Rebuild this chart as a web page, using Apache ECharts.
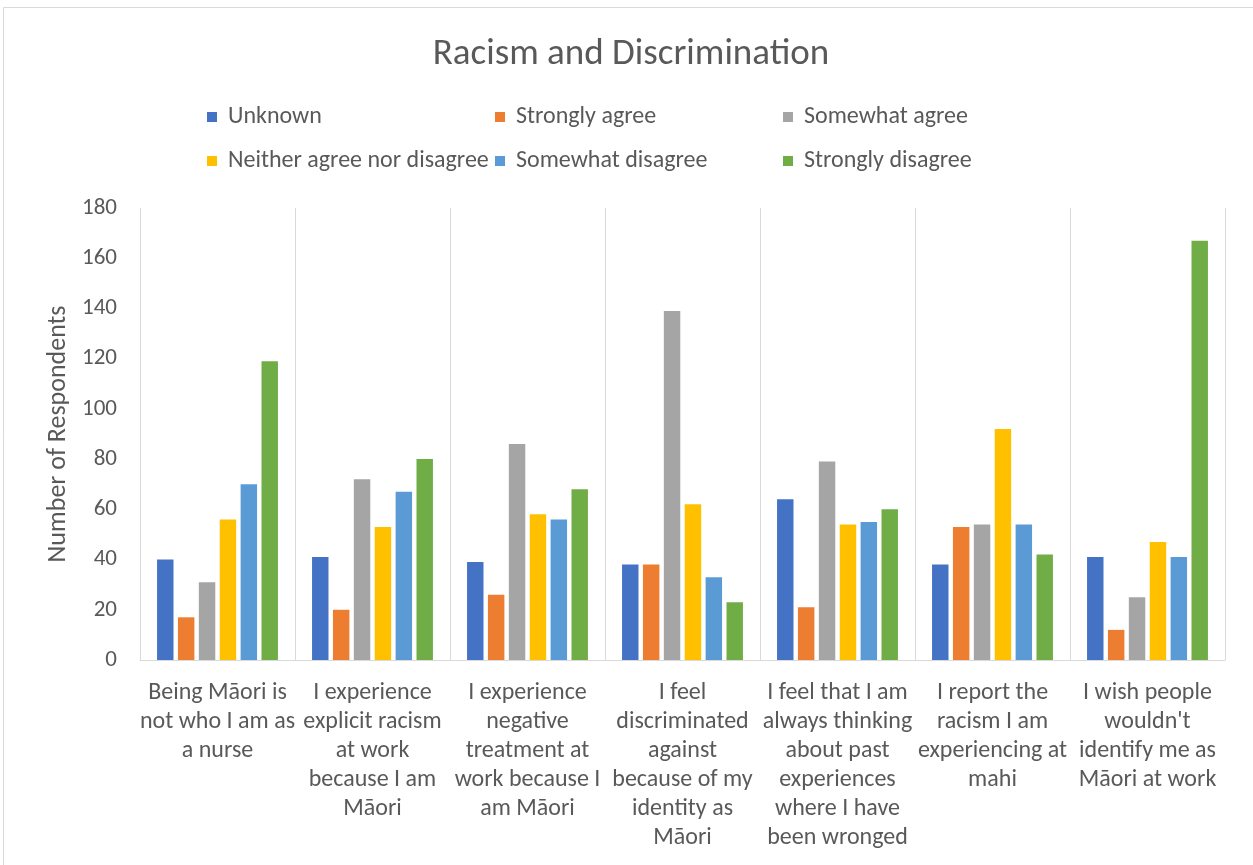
<!DOCTYPE html>
<html>
<head>
<meta charset="utf-8">
<title>Racism and Discrimination</title>
<script src="https://cdn.jsdelivr.net/npm/echarts@6/dist/echarts.min.js"></script>
<style>
  html, body { margin: 0; padding: 0; background: #ffffff; }
  #chart { width: 1253px; height: 865px; }
</style>
</head>
<body>
<div id="chart"></div>
<script>
// Survey statements (tick labels, wrapped as they appear under each group)
const categories = [
  "Being Māori is\nnot who I am as\na nurse",
  "I experience\nexplicit racism\nat work\nbecause I am\nMāori",
  "I experience\nnegative\ntreatment at\nwork because I\nam Māori",
  "I feel\ndiscriminated\nagainst\nbecause of my\nidentity as\nMāori",
  "I feel that I am\nalways thinking\nabout past\nexperiences\nwhere I have\nbeen wronged",
  "I report the\nracism I am\nexperiencing at\nmahi",
  "I wish people\nwouldn't\nidentify me as\nMāori at work"
];

// Responses per statement, one array per answer option
const unknown          = [40, 41, 39, 38, 64, 38, 41];
const stronglyAgree    = [17, 20, 26, 38, 21, 53, 12];
const somewhatAgree    = [31, 72, 86, 139, 79, 54, 25];
const neither          = [56, 53, 58, 62, 54, 92, 47];
const somewhatDisagree = [70, 67, 56, 33, 55, 54, 41];
const stronglyDisagree = [119, 80, 68, 23, 60, 42, 167];

const seriesNames = [
  "Unknown", "Strongly agree", "Somewhat agree",
  "Neither agree nor disagree", "Somewhat disagree", "Strongly disagree"
];
const seriesData = [unknown, stronglyAgree, somewhatAgree, neither, somewhatDisagree, stronglyDisagree];
const colors = ["#4472C4", "#ED7D31", "#A5A5A5", "#FFC000", "#5B9BD5", "#70AD47"];

const FONT = "Carlito, Lato, 'Open Sans', sans-serif";
const TEXT = "#595959";

// Legend laid out as a 3 x 2 grid
const legendCols = [207, 495, 783];
const legendRows = [105, 149];
const legends = seriesNames.map((name, i) => ({
  data: [name],
  left: legendCols[i % 3],
  top: legendRows[Math.floor(i / 3)],
  padding: 0,
  icon: "rect",
  itemWidth: 10,
  itemHeight: 10,
  selectedMode: false,
  textStyle: { fontFamily: FONT, fontSize: 24, color: TEXT, padding: [0, 0, 0, 6] }
}));

const chart = echarts.init(document.getElementById("chart"), null, { renderer: "canvas" });
chart.setOption({
  animation: false,
  backgroundColor: "#ffffff",
  color: colors,
  graphic: [{
    type: "rect",
    shape: { x: 3.5, y: 7.5, width: 1300, height: 900 },
    style: { fill: "none", stroke: "#d9d9d9", lineWidth: 1 },
    silent: true
  }],
  title: {
    text: "Racism and Discrimination",
    left: 631,
    textAlign: "center",
    top: 36,
    padding: 0,
    textStyle: { fontFamily: FONT, fontSize: 37, fontWeight: "normal", color: TEXT }
  },
  legend: legends,
  grid: { left: 140, right: 28, top: 208, bottom: 205, containLabel: false },
  xAxis: {
    type: "category",
    data: categories,
    axisLine: { show: true, lineStyle: { color: "#d9d9d9", width: 1 } },
    axisTick: { show: false },
    splitLine: { show: true, lineStyle: { color: "#d9d9d9", width: 1 } },
    axisLabel: {
      interval: 0,
      margin: 18,
      fontFamily: FONT,
      fontSize: 24,
      lineHeight: 29,
      color: TEXT,
      align: "center"
    }
  },
  yAxis: {
    type: "value",
    min: 0,
    max: 180,
    interval: 20,
    name: "Number of Respondents",
    nameLocation: "middle",
    nameGap: 69,
    nameTextStyle: { fontFamily: FONT, fontSize: 26, color: TEXT },
    axisLine: { show: false },
    axisTick: { show: false },
    splitLine: { show: false },
    axisLabel: { margin: 23, fontFamily: FONT, fontSize: 23, color: TEXT }
  },
  series: seriesNames.map((name, i) => ({
    name: name,
    type: "bar",
    data: seriesData[i],
    barGap: "27%",
    barCategoryGap: "22%",
    itemStyle: { color: colors[i] }
  }))
});
</script>
</body>
</html>
